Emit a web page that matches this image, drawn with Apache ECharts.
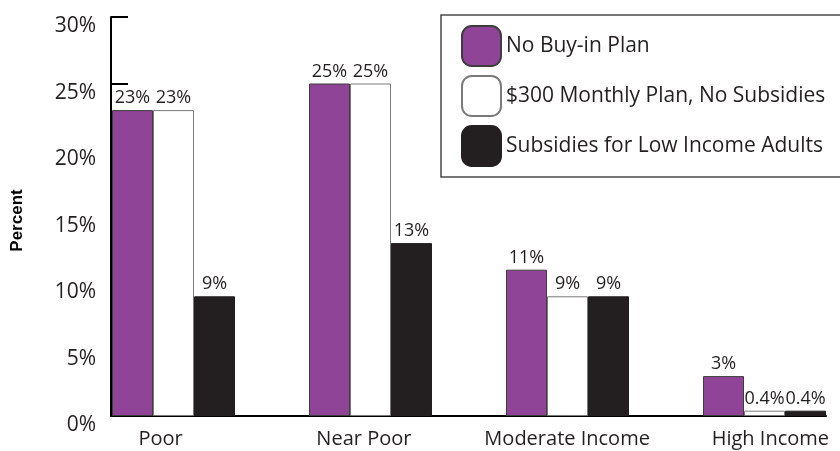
<!DOCTYPE html>
<html>
<head>
<meta charset="utf-8">
<style>
  html, body { margin: 0; padding: 0; background: #ffffff; overflow: hidden; }
  #chart { width: 900px; height: 451px; }
</style>
<script src="https://cdn.jsdelivr.net/npm/echarts@6/dist/echarts.min.js"></script>
</head>
<body>
<div id="chart"></div>
<script>
// Income groups and the share of adults in each, by plan scenario (percent)
var categories = ['Poor', 'Near Poor', 'Moderate Income', 'High Income'];
var seriesNames = ['No Buy-in Plan', '$300 Monthly Plan, No Subsidies', 'Subsidies for Low Income Adults'];
var noBuyIn = [23, 25, 11, 3];
var monthlyPlan = [23, 25, 9, 0.4];
var lowIncomeSubsidies = [9, 13, 9, 0.4];
var yTicks = [0, 5, 10, 15, 20, 25, 30];

var textColor = '#231f20';
var baseFont = 'Open Sans';

function labelFor(v) { return v + '%'; }

var barLabel = {
  show: true,
  position: 'top',
  distance: 3,
  color: textColor,
  fontFamily: baseFont,
  fontSize: 18,
  formatter: function (p) { return labelFor(p.value); }
};

var chart = echarts.init(document.getElementById('chart'), null, { renderer: 'canvas' });

chart.setOption({
  backgroundColor: '#ffffff',
  animation: false,
  textStyle: { fontFamily: baseFont, color: textColor },
  grid: [
    // bars
    { left: 75, width: 788, top: 17, bottom: 35 },
    // visible axis frame
    { left: 111, width: 715, top: 17, bottom: 35 },
    // category labels
    { left: 59, width: 813, top: 17, bottom: 35 }
  ],
  xAxis: [
    {
      gridIndex: 0, type: 'category', data: categories,
      axisLine: { show: false }, axisTick: { show: false }, axisLabel: { show: false }
    },
    {
      gridIndex: 1, type: 'category', data: categories,
      axisLine: { show: true, lineStyle: { color: '#000000', width: 2 } },
      axisTick: { show: false }, axisLabel: { show: false }
    },
    {
      gridIndex: 2, type: 'category', data: categories,
      axisLine: { show: false }, axisTick: { show: false },
      axisLabel: { show: true, interval: 0, margin: 13, color: textColor, fontFamily: baseFont, fontSize: 20 }
    }
  ],
  yAxis: [
    {
      gridIndex: 0, type: 'value', min: 0, max: 30, interval: 5, show: false
    },
    {
      gridIndex: 1, type: 'value', min: yTicks[0], max: yTicks[yTicks.length - 1], interval: 5,
      name: 'Percent',
      nameLocation: 'middle',
      nameRotate: 90,
      nameGap: 85,
      nameTextStyle: { fontFamily: 'Liberation Sans', fontWeight: 'bold', fontSize: 17, color: '#000000', padding: [0, 8, 0, 0] },
      axisLine: { show: true, lineStyle: { color: '#000000', width: 2 } },
      axisTick: { show: true, inside: true, length: 17, lineStyle: { color: '#000000', width: 2 } },
      axisLabel: {
        margin: 15, color: textColor, fontFamily: baseFont, fontSize: 21,
        verticalAlign: 'top', lineHeight: 19,
        formatter: function (v) { return v + '%'; }
      },
      splitLine: { show: false }
    },
    {
      gridIndex: 2, type: 'value', min: 0, max: 30, show: false
    }
  ],
  legend: {
    orient: 'vertical',
    left: 441,
    top: 15,
    itemWidth: 39,
    itemHeight: 40,
    itemGap: 8,
    padding: [10, 60, 10, 20],
    borderColor: '#4a4a4a',
    borderWidth: 1.5,
    data: seriesNames,
    textStyle: { color: textColor, fontFamily: baseFont, fontSize: 21 }
  },
  series: [
    {
      name: seriesNames[0], type: 'bar', xAxisIndex: 0, yAxisIndex: 0,
      data: noBuyIn, barWidth: 41, barGap: '0%',
      itemStyle: { color: '#8f4497', borderColor: '#3d3d3d', borderWidth: 1 },
      label: barLabel
    },
    {
      name: seriesNames[1], type: 'bar', xAxisIndex: 0, yAxisIndex: 0,
      data: monthlyPlan, barWidth: 41, barGap: '0%',
      itemStyle: { color: '#ffffff', borderColor: '#7a7a7a', borderWidth: 1 },
      label: barLabel
    },
    {
      name: seriesNames[2], type: 'bar', xAxisIndex: 0, yAxisIndex: 0,
      data: lowIncomeSubsidies, barWidth: 41, barGap: '0%',
      itemStyle: { color: '#231f20', borderColor: '#231f20', borderWidth: 1 },
      label: barLabel
    }
  ]
});
</script>
</body>
</html>
